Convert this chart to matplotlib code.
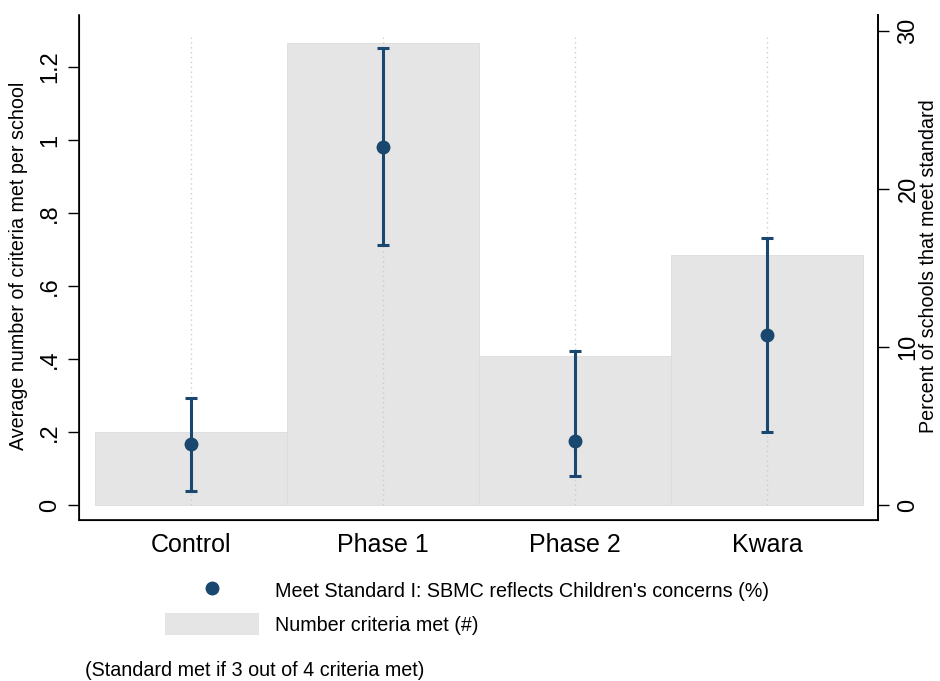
import numpy as np
import matplotlib.pyplot as plt
from matplotlib.lines import Line2D
from matplotlib.patches import Patch

plt.rcParams['font.family'] = ['Liberation Sans', 'DejaVu Sans']

# data
groups = ['Control', 'Phase 1', 'Phase 2', 'Kwara']
criteria_met = [0.20, 1.266, 0.408, 0.685]      # left axis, bars
pct_meet = [3.84, 22.68, 4.05, 10.76]           # right axis, points
pct_lo = [0.91, 16.46, 1.84, 4.60]
pct_hi = [6.79, 28.94, 9.75, 16.88]

left_ticks = [0, 0.2, 0.4, 0.6, 0.8, 1.0, 1.2]
left_ticklabels = ['0', '.2', '.4', '.6', '.8', '1', '1.2']
right_ticks = [0, 10, 20, 30]

navy = '#1a476f'
bar_gray = '#e5e5e5'

fig = plt.figure(figsize=(9.4, 6.81), dpi=100)
ax = fig.add_axes([79/940, 161/681, 799/940, 505/681])

x = np.arange(len(groups))
ax.bar(x, criteria_met, width=1.0, color=bar_gray, edgecolor='#dcdcdc',
       linewidth=0.6, zorder=1)
ax.vlines(x, 0, 1.283, colors='#cccccc', linestyles=(0, (1, 2.5)),
          linewidth=1.0, zorder=2)

ax.set_xlim(-0.583, 3.578)
ax.set_ylim(-0.0411, 1.3425)
ax.set_yticks(left_ticks)
ax.set_yticklabels(left_ticklabels, rotation=90, va='center')
ax.tick_params(axis='y', length=8, width=1, pad=5, labelsize=17)
ax.set_xticks(x)
ax.set_xticklabels(groups, fontsize=18)
ax.tick_params(axis='x', length=0, pad=9)
ax.spines['top'].set_visible(False)
for s in ['left', 'bottom', 'right']:
    ax.spines[s].set_linewidth(1.2)
ax.set_ylabel('Average number of criteria met per school', fontsize=14.2, va='center')
ax.yaxis.set_label_coords((19 - 79) / 799, (520 - 266) / 505)

ax2 = ax.twinx()
ax2.set_ylim(-0.949, 31.01)
mid = np.array(pct_meet)
yerr = [mid - np.array(pct_lo), np.array(pct_hi) - mid]
ax2.errorbar(x, mid, yerr=yerr, fmt='o', color=navy, ms=9,
             elinewidth=2.2, capsize=4.6, capthick=2.2, zorder=3)
ax2.set_yticks(right_ticks)
ax2.set_yticklabels([str(t) for t in right_ticks], rotation=90, va='center')
ax2.tick_params(axis='y', length=8, width=1, pad=6, labelsize=17)
ax2.spines['top'].set_visible(False)
ax2.spines['right'].set_linewidth(1.2)
ax2.set_ylabel('Percent of schools that meet standard', fontsize=14.2, va='center')
ax2.yaxis.set_label_coords((929 - 79) / 799, (520 - 266) / 505)

handles = [Line2D([], [], marker='o', ls='none', color=navy, ms=9),
           Patch(facecolor=bar_gray, edgecolor='none')]
labels = ["Meet Standard I: SBMC reflects Children's concerns (%)",
          'Number criteria met (#)']
fig.legend(handles, labels, loc='upper left',
           bbox_to_anchor=(165/940, 1 - 579/681), frameon=False, fontsize=14.2,
           handlelength=94/19.7, handleheight=1.35, handletextpad=16/19.7,
           labelspacing=0.6, borderpad=0, borderaxespad=0)

fig.text(85/940, 1 - 670/681, '(Standard met if 3 out of 4 criteria met)',
         fontsize=14.2, va='center')

fig.savefig('out.png', dpi=100)
